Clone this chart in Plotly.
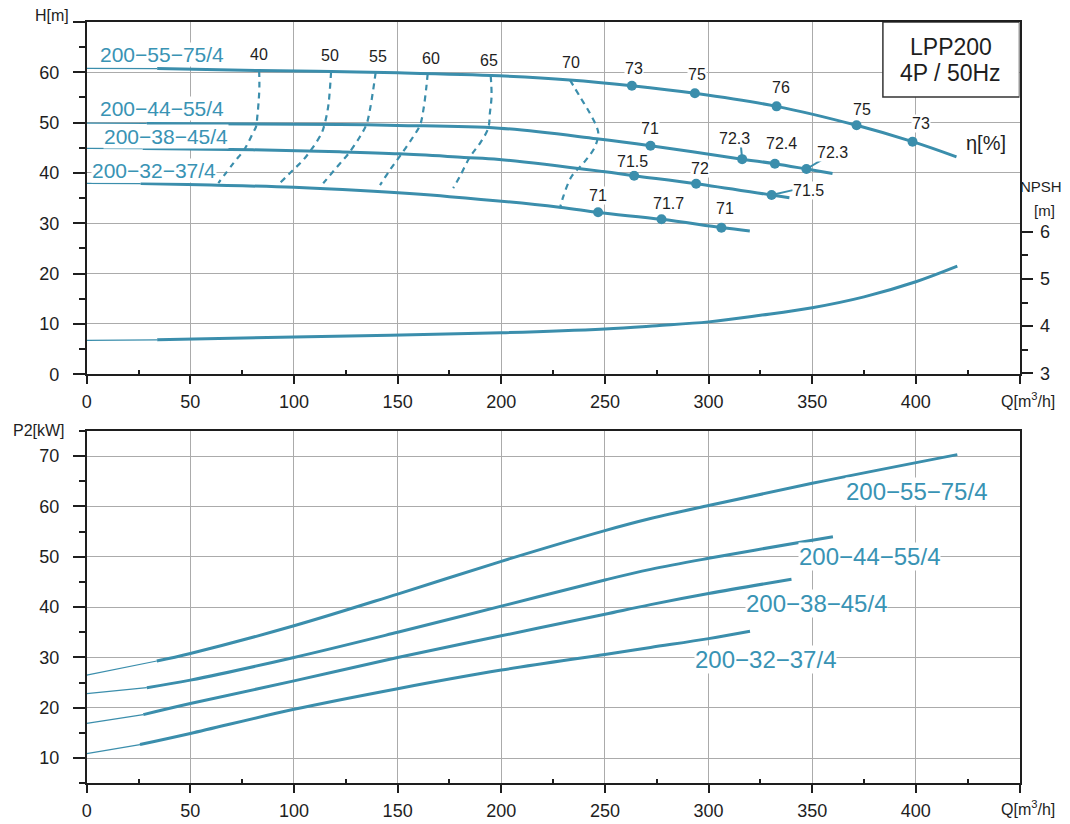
import plotly.graph_objects as go

TEAL = '#3b8eac'
LABEL_TEAL = '#3993b4'
GRID = '#ababab'
INK = '#1e1e1e'
FONT = 'Liberation Sans, Arial, Helvetica, sans-serif'

W, H = 1070, 824
OFF = 8  # the page body adds an 8px margin around the figure

# ---- data ----------------------------------------------------------------
models = ['200\u221255\u221275/4', '200\u221244\u221255/4', '200\u221238\u221245/4', '200\u221232\u221237/4']

# head curves H[m] vs Q[m3/h]
q_55 = [0, 34, 83, 118, 150, 199, 233, 263, 293.4, 332.8, 371.4, 398.4, 419.6]
h_55 = [60.8, 60.75, 60.35, 60.15, 59.9, 59.3, 58.5, 57.34, 55.83, 53.24, 49.47, 46.22, 43.2]
q_44 = [0, 29, 80, 122, 150, 199, 246, 272, 316.2, 332, 347.2, 359.8]
h_44 = [49.9, 49.85, 49.75, 49.65, 49.45, 48.9, 46.8, 45.42, 42.75, 41.84, 40.79, 39.9]
q_38 = [0, 27, 80, 122, 151, 182, 199, 249, 264.1, 294, 330.4, 339]
h_38 = [44.9, 44.85, 44.6, 44.2, 43.8, 43.1, 42.7, 40.3, 39.46, 37.87, 35.62, 35.1]
q_32 = [0, 26, 60, 100, 132, 175, 228, 246.7, 277.3, 306.2, 319.9]
h_32 = [37.95, 37.9, 37.6, 37.15, 36.5, 35.3, 33.2, 32.15, 30.8, 29.15, 28.47]
head_q = [q_55, q_44, q_38, q_32]
head_h = [h_55, h_44, h_38, h_32]
head_thin_to = [34, 29, 27, 26]

# efficiency points on the head curves
eff_q = [[263, 293.4, 332.8, 371.4, 398.4],
         [272, 316.2, 332, 347.2],
         [264.1, 294, 330.4],
         [246.7, 277.3, 306.2]]
eff_h = [[57.34, 55.83, 53.24, 49.47, 46.22],
         [45.42, 42.75, 41.84, 40.79],
         [39.46, 37.87, 35.62],
         [32.19, 30.8, 29.13]]
eff_val = [['73', '75', '76', '75', '73'],
           ['71', '72.3', '72.4', '72.3'],
           ['71.5', '72', '71.5'],
           ['71', '71.7', '71']]
eff_lab_q = [[263.9, 294.5, 335, 373.8, 402.3],
             [271.7, 312.5, 335.4, 360],
             [263.3, 295.8, 348.2],
             [246.5, 280.5, 308]]
eff_lab_h = [[60.7, 59.5, 56.9, 52.6, 49.9],
             [48.9, 46.9, 45.9, 44.0],
             [42.2, 40.9, 36.5],
             [35.6, 34.0, 32.9]]

# iso-efficiency contours (dashed)
iso_names = ['40', '50', '55', '60', '65', '70']
iso_q = [[83.2, 83.3, 83.0, 82.3, 81.7, 80.1, 76.4, 70.7, 63.5],
         [117.9, 117.3, 116.5, 114.9, 113.3, 109.3, 104.5, 99.6, 93.2],
         [139.4, 138.2, 136.6, 135, 131.8, 126.2, 122.2, 114.1],
         [164.5, 163.7, 162.4, 160.8, 157.5, 151.9, 146.3, 141.5],
         [194.9, 195.3, 194.5, 193.7, 189.7, 184.9, 180, 176.8],
         [233.1, 237.9, 242.7, 246, 246.8, 245.2, 239.5, 233.9, 229.9, 228.3]]
iso_h = [[60.35, 57.1, 54.5, 51.2, 49.2, 47.9, 44.9, 41.9, 38.0],
         [60.15, 56.5, 53.2, 49.9, 47.9, 45.2, 42.6, 40.6, 38.0],
         [60.0, 56.5, 52.5, 49.7, 47.2, 43.8, 41.9, 37.95],
         [59.75, 56.5, 52.5, 49.5, 47.2, 43.8, 40.6, 37.6],
         [59.35, 55.2, 51.9, 48.9, 45.9, 43.2, 39.3, 37.0],
         [58.5, 55.2, 51.9, 49.2, 47.9, 45.2, 41.9, 39.3, 35.3, 33.0]]
iso_lab_q = [83, 117.5, 140.5, 166.2, 194.1, 233.4]
iso_lab_h = [63.6, 63.4, 63.1, 62.8, 62.3, 62.05]

# NPSH curve
npsh_q = [0, 34, 100, 200, 250, 275, 300, 325, 350, 375, 400, 420]
npsh_m = [3.70, 3.71, 3.77, 3.86, 3.94, 4.01, 4.09, 4.23, 4.39, 4.62, 4.94, 5.27]
npsh_thin_to = 34

# power curves P2[kW]
p_q = [[0, 33.8, 50, 100, 150, 200, 250, 272, 300, 350, 420],
       [0, 29, 50, 100, 150, 200, 250, 272, 300, 350, 360],
       [0, 27.3, 50, 100, 150, 200, 250, 272, 300, 340],
       [0, 25.7, 50, 100, 150, 200, 250, 272, 300, 320]]
p_kw = [[26.5, 29.3, 30.8, 36.3, 42.6, 49.1, 55.2, 57.6, 60.2, 64.6, 70.3],
        [22.8, 24.0, 25.5, 30.0, 35.0, 40.2, 45.4, 47.5, 49.7, 53.3, 54.0],
        [16.9, 18.65, 20.85, 25.35, 30.0, 34.3, 38.6, 40.5, 42.7, 45.55],
        [10.9, 12.7, 14.9, 19.7, 23.8, 27.5, 30.6, 32.0, 33.75, 35.2]]
p_thin_to = [33.8, 29, 27.3, 25.7]
p_lab_q = [400.3, 377.8, 352, 327.6]
p_lab_kw = [63.0, 50.1, 40.8, 29.6]

q_ticks = [0, 50, 100, 150, 200, 250, 300, 350, 400, 450]
q_ticktext = ['0', '50', '100', '150', '200', '250', '300', '350', '400', '']
h_ticks = [0, 10, 20, 30, 40, 50, 60, 70]
h_ticktext = ['0', '10', '20', '30', '40', '50', '60', '']
npsh_ticks = [3, 4, 5, 6]


def split(q, v, q0):
    thin = [(a, b) for a, b in zip(q, v) if a <= q0]
    thick = [(a, b) for a, b in zip(q, v) if a >= q0]
    return list(zip(*thin)), list(zip(*thick))


def pxx(x):
    return (x - OFF) / W


def pxy(y):
    return 1 - (y - OFF) / H


fig = go.Figure()

# head curves
for qs, hs, q0 in zip(head_q, head_h, head_thin_to):
    thin, thick = split(qs, hs, q0)
    fig.add_trace(go.Scatter(x=thin[0], y=thin[1], mode='lines', xaxis='x', yaxis='y',
                             line=dict(color=TEAL, width=1.2, shape='spline')))
    fig.add_trace(go.Scatter(x=thick[0], y=thick[1], mode='lines', xaxis='x', yaxis='y',
                             line=dict(color=TEAL, width=3, shape='spline')))

# iso efficiency
for qs, hs in zip(iso_q, iso_h):
    fig.add_trace(go.Scatter(x=qs, y=hs, mode='lines', xaxis='x', yaxis='y',
                             line=dict(color=TEAL, width=2.2, dash='6px,5px', shape='spline')))

# efficiency points
for qs, hs in zip(eff_q, eff_h):
    fig.add_trace(go.Scatter(x=qs, y=hs, mode='markers', xaxis='x', yaxis='y',
                             marker=dict(color=TEAL, size=10)))

# NPSH
thin, thick = split(npsh_q, npsh_m, npsh_thin_to)
fig.add_trace(go.Scatter(x=thin[0], y=thin[1], mode='lines', xaxis='x', yaxis='y3',
                         line=dict(color=TEAL, width=1.2, shape='spline')))
fig.add_trace(go.Scatter(x=thick[0], y=thick[1], mode='lines', xaxis='x', yaxis='y3',
                         line=dict(color=TEAL, width=3, shape='spline')))

# power curves
for qs, ps, q0 in zip(p_q, p_kw, p_thin_to):
    thin, thick = split(qs, ps, q0)
    fig.add_trace(go.Scatter(x=thin[0], y=thin[1], mode='lines', xaxis='x2', yaxis='y2',
                             line=dict(color=TEAL, width=1.2, shape='spline')))
    fig.add_trace(go.Scatter(x=thick[0], y=thick[1], mode='lines', xaxis='x2', yaxis='y2',
                             line=dict(color=TEAL, width=3, shape='spline')))

ann = []
# model labels upper chart
top_lab_q = [36.3, 36.2, 38.3, 32.6]
top_lab_h = [63.6, 52.9, 47.2, 40.4]
for name, lq, lh in zip(models, top_lab_q, top_lab_h):
    ann.append(dict(x=lq, y=lh, xref='x', yref='y', text=name, showarrow=False,
                    font=dict(size=21, color=LABEL_TEAL), bgcolor='white', borderpad=0))
# model labels lower chart
for name, lq, lp in zip(models, p_lab_q, p_lab_kw):
    ann.append(dict(x=lq, y=lp, xref='x2', yref='y2', text=name, showarrow=False,
                    font=dict(size=24, color=LABEL_TEAL), bgcolor='white', borderpad=0))
# efficiency numbers
for vals, lqs, lhs in zip(eff_val, eff_lab_q, eff_lab_h):
    for v, lq, lh in zip(vals, lqs, lhs):
        ann.append(dict(x=lq, y=lh, xref='x', yref='y', text=v, showarrow=False,
                        font=dict(size=16, color=INK), bgcolor='white', borderpad=0))
for v, lq, lh in zip(iso_names, iso_lab_q, iso_lab_h):
    ann.append(dict(x=lq, y=lh, xref='x', yref='y', text=v, showarrow=False,
                    font=dict(size=16, color=INK), bgcolor='white', borderpad=0))
ann.append(dict(x=434, y=45.9, xref='x', yref='y', text='\u03b7[%]', showarrow=False,
                font=dict(size=20, color=INK)))
ann.append(dict(x=416.8, y=65.0, xref='x', yref='y', text='LPP200', showarrow=False,
                font=dict(size=23, color=INK)))
ann.append(dict(x=416.8, y=59.8, xref='x', yref='y', text='4P / 50Hz', showarrow=False,
                font=dict(size=23, color=INK)))

# axis titles
for text, x, y, size in [('H[m]', 52, 15, 16), ('P2[kW]', 39, 430, 16),
                         ('NPSH', 1041, 187, 15), ('[m]', 1044, 210, 15),
                         ('Q[m<sup>3</sup>/h]', 1028, 400, 16),
                         ('Q[m<sup>3</sup>/h]', 1028, 808, 16)]:
    ann.append(dict(x=pxx(x), y=pxy(y), xref='paper', yref='paper', text=text,
                    showarrow=False, xanchor='center', yanchor='middle',
                    font=dict(size=size, color=INK)))

shapes = [
    dict(type='rect', xref='x', yref='y', x0=384.1, x1=450, y0=55.1, y1=70,
         line=dict(color='#333333', width=1.5), fillcolor='white', layer='above'),
    # leader lines
    dict(type='line', xref='x', yref='y', x0=316.2, y0=42.75, x1=315.6, y1=45.4,
         line=dict(color=TEAL, width=2)),
    dict(type='line', xref='x', yref='y', x0=347.2, y0=40.79, x1=354.6, y1=42.6,
         line=dict(color=TEAL, width=2)),
    dict(type='line', xref='x', yref='y', x0=330.4, y0=35.62, x1=340.7, y1=36.6,
         line=dict(color=TEAL, width=2)),
]

x_dom = [pxx(86.7), pxx(1019.5)]
axis_common = dict(showline=True, linecolor=INK, linewidth=1.6, mirror=True,
                   showgrid=True, gridcolor=GRID, gridwidth=1.4, zeroline=False,
                   automargin=False,
                   tickfont=dict(size=18, color=INK, family=FONT),
                   ticks='outside', tickcolor=INK, tickwidth=1.5)

xaxis_def = dict(axis_common, range=[0, 450], tickmode='array', tickvals=q_ticks,
                 ticktext=q_ticktext, ticklen=8, ticklabelstandoff=2,
                 minor=dict(tickmode='array', tickvals=[q + 25 for q in q_ticks[:-1]],
                            ticks='inside', ticklen=5, tickcolor=INK, tickwidth=1.5,
                            showgrid=False))

layout = go.Layout(
    template='none',
    width=W, height=H,
    margin=dict(l=0, r=0, t=0, b=0, autoexpand=False),
    paper_bgcolor='white', plot_bgcolor='white',
    showlegend=False,
    font=dict(family=FONT, color=INK),
    xaxis=dict(xaxis_def, domain=x_dom, anchor='y'),
    yaxis=dict(axis_common, domain=[pxy(374.3), pxy(22)], anchor='x', range=[0, 70],
               tickmode='array', tickvals=h_ticks, ticktext=h_ticktext, ticklen=12,
               ticklabelstandoff=10,
               minor=dict(tickmode='array', tickvals=[h + 5 for h in h_ticks[:-1]],
                          ticks='outside', ticklen=6, tickcolor=INK, tickwidth=1.5,
                          showgrid=False)),
    yaxis3=dict(overlaying='y', side='right', anchor='x', range=[2.98, 10.44],
                showgrid=False, zeroline=False, showline=True, linecolor=INK, linewidth=1.6,
                automargin=False,
                tickmode='array', tickvals=npsh_ticks, ticks='outside', ticklen=12,
                tickcolor=INK, tickwidth=1.5, ticklabelstandoff=3,
                tickfont=dict(size=18, color=INK, family=FONT),
                minor=dict(tickmode='array', tickvals=[n + 0.5 for n in npsh_ticks[:-1]],
                           ticks='outside', ticklen=7, tickcolor=INK, tickwidth=1.5,
                           showgrid=False)),
    xaxis2=dict(xaxis_def, domain=x_dom, anchor='y2'),
    yaxis2=dict(axis_common, domain=[pxy(783.3), pxy(431)], anchor='x2',
                range=[5, 75], tick0=0, dtick=10, ticklen=12, ticklabelstandoff=10,
                minor=dict(tick0=5, dtick=10, ticks='outside', ticklen=6, tickcolor=INK,
                           tickwidth=1.5, showgrid=False)),
    annotations=ann,
    shapes=shapes,
)

fig.update_layout(layout)
fig.write_html('out.html')
